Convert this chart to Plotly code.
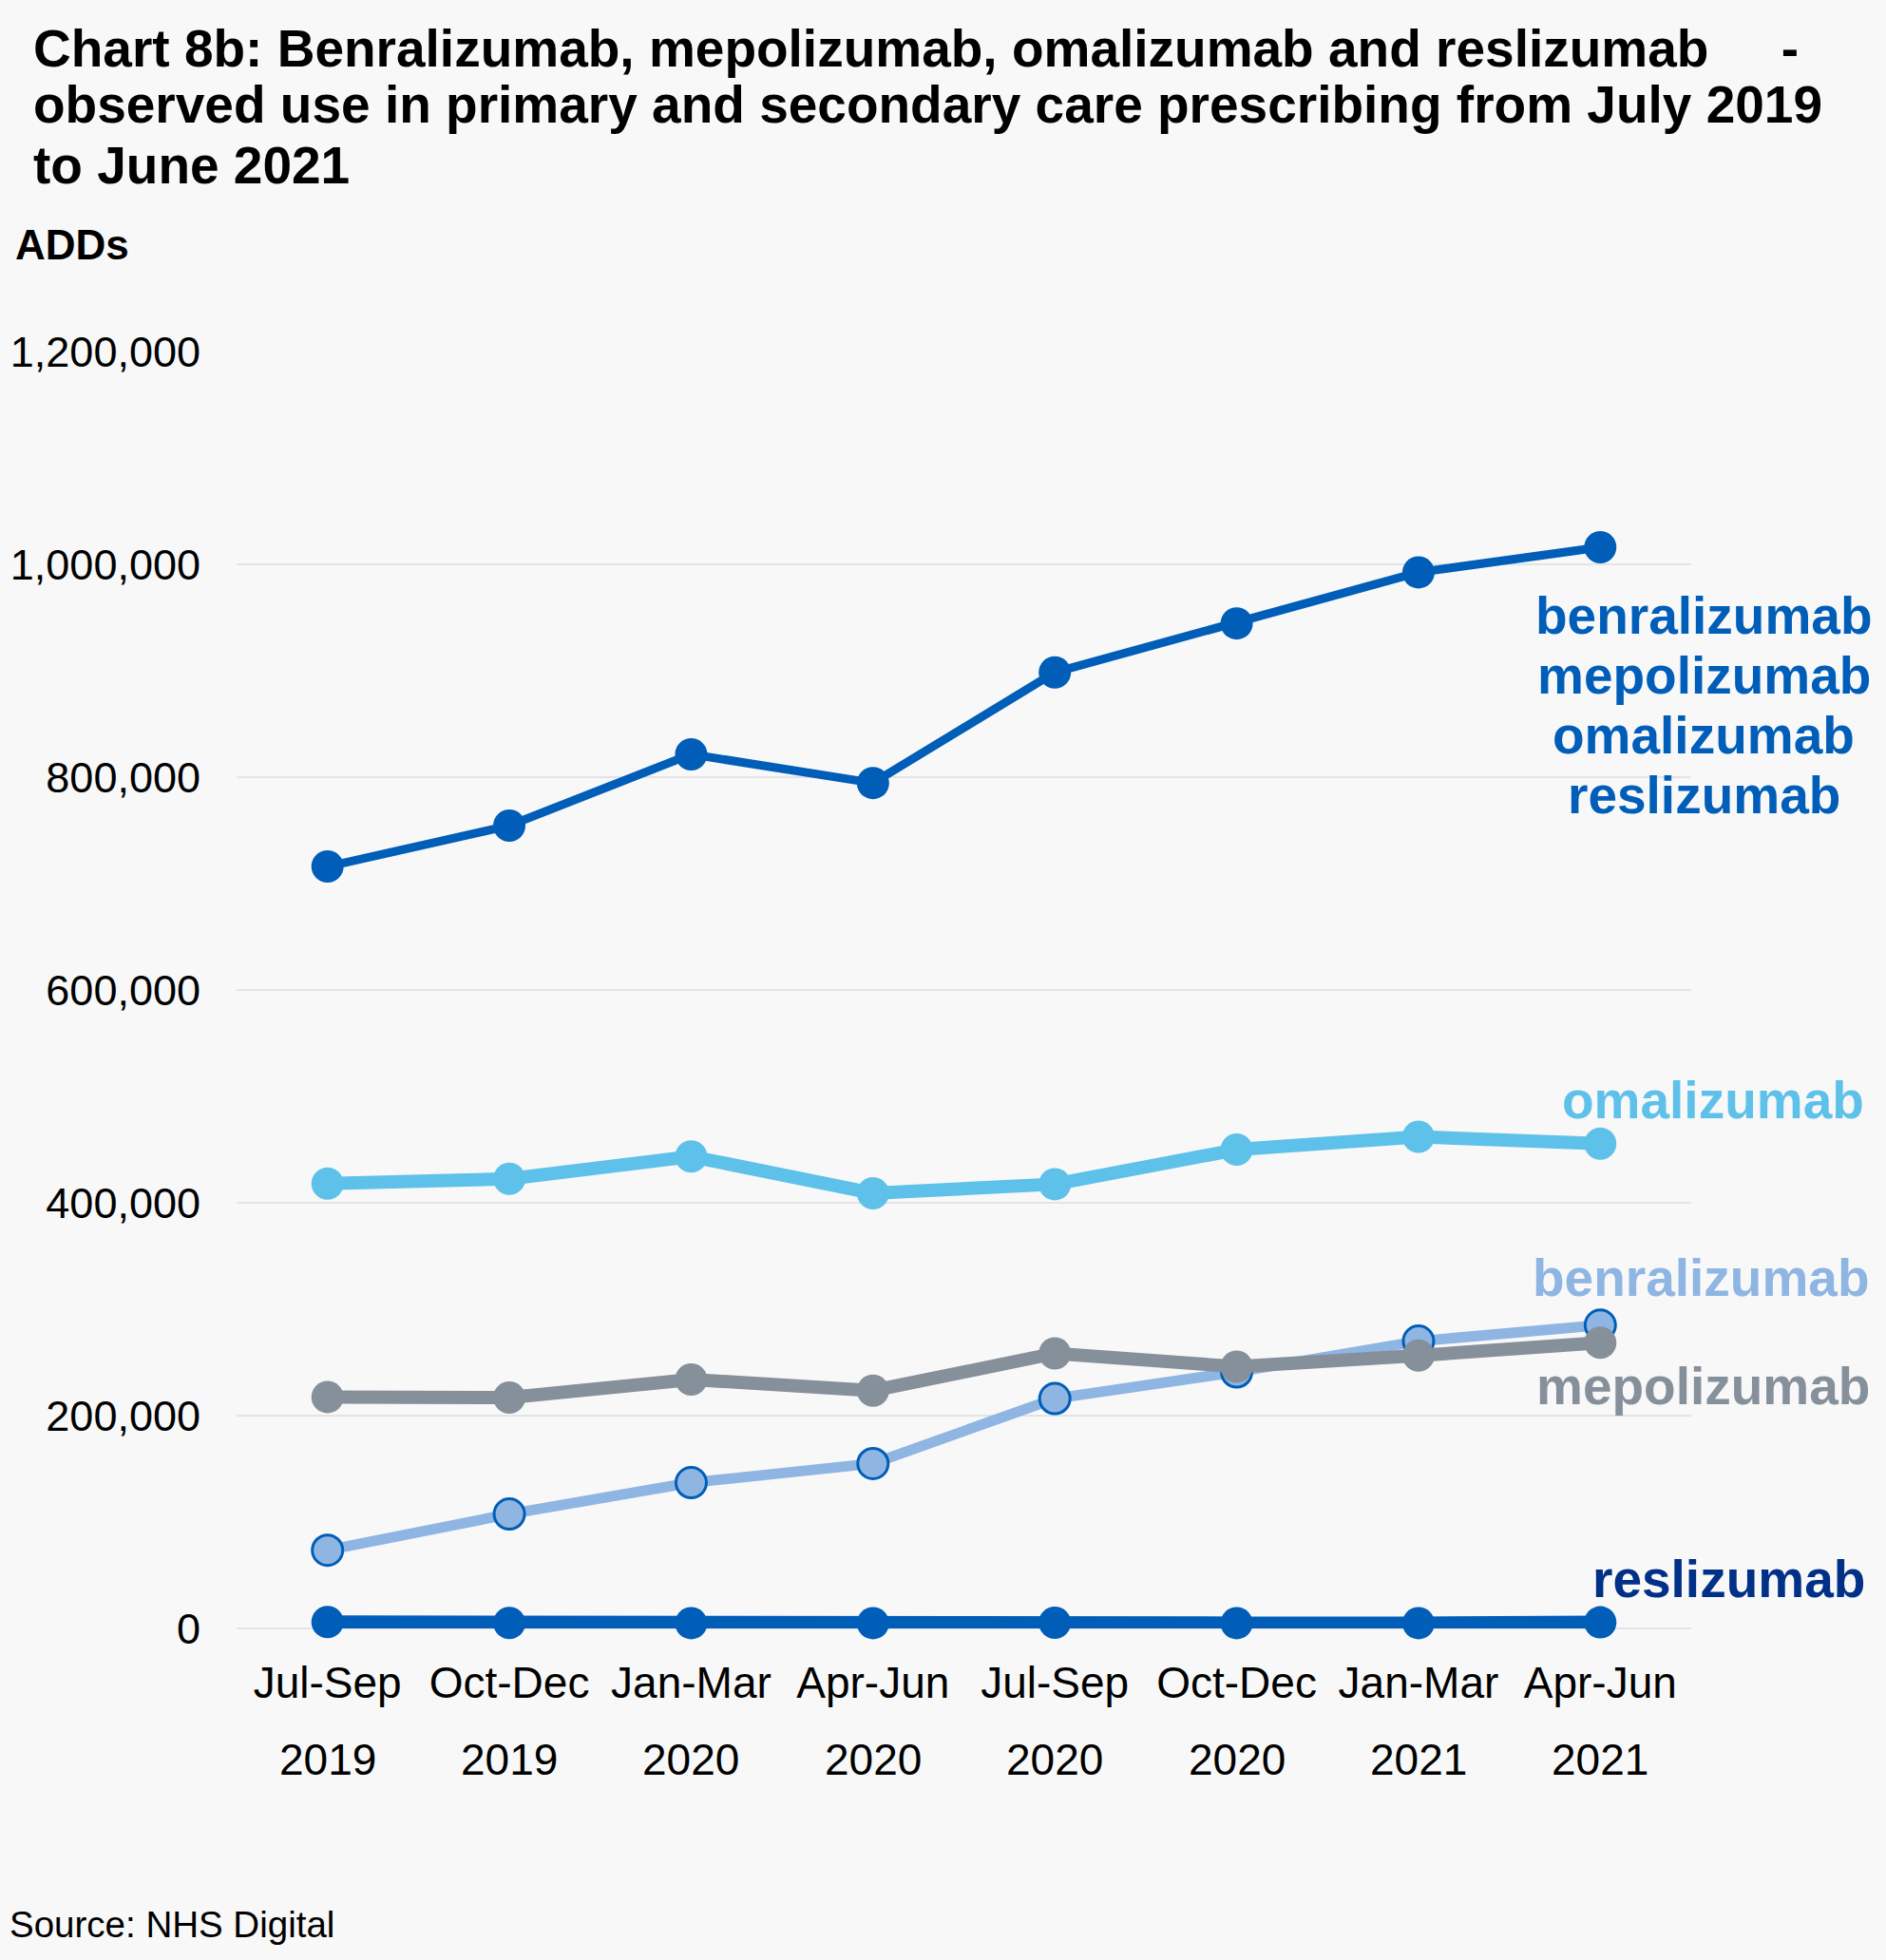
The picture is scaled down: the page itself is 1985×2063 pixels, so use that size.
import plotly.graph_objects as go

# ---- data ----
quarters = ["Jul-Sep", "Oct-Dec", "Jan-Mar", "Apr-Jun", "Jul-Sep", "Oct-Dec", "Jan-Mar", "Apr-Jun"]
years = ["2019", "2019", "2020", "2020", "2020", "2020", "2021", "2021"]
categories = [f"{q} {y}" for q, y in zip(quarters, years)]

total_all = [716000, 754500, 821500, 794500, 898500, 944500, 992500, 1016000]
omalizumab = [418000, 422500, 443500, 409000, 417500, 450000, 462000, 455500]
benralizumab = [73500, 107500, 137000, 155000, 216000, 241000, 270000, 285000]
mepolizumab = [217500, 217000, 234000, 223500, 258500, 246000, 256500, 268500]
reslizumab = [6000, 5200, 5000, 5000, 5300, 5000, 5000, 5700]

y_ticks = [0, 200000, 400000, 600000, 800000, 1000000, 1200000]

title_lines = [
    "Chart 8b: Benralizumab, mepolizumab, omalizumab and reslizumab&nbsp;&nbsp;&nbsp;&nbsp;&nbsp;-",
    "observed use in primary and secondary care prescribing from July 2019",
    "to June 2021",
]

# ---- geometry ----
WIDTH, HEIGHT = 1985, 2063
L, R, T, B = 249, 205, 370, 349
PW = WIDTH - L - R
PH = HEIGHT - T - B


def px_x(px):
    return (px - L) / PW


def px_y(py):
    return (HEIGHT - B - py) / PH


FONT = "Liberation Sans, Arial, sans-serif"
DARK_BLUE = "#005EB8"
LIGHT_BLUE = "#5EC1EA"
BENRA = "#8FB5E3"
GREY = "#86909B"
NAVY = "#003087"
BG = "#f8f8f8"

fig = go.Figure()

fig.add_trace(go.Scatter(
    x=categories, y=omalizumab, mode="lines+markers", name="omalizumab",
    line=dict(color=LIGHT_BLUE, width=14),
    marker=dict(color=LIGHT_BLUE, size=34), cliponaxis=False))
fig.add_trace(go.Scatter(
    x=categories, y=benralizumab, mode="lines+markers", name="benralizumab",
    line=dict(color=BENRA, width=11),
    marker=dict(color=BENRA, size=32, line=dict(color=DARK_BLUE, width=3)), cliponaxis=False))
fig.add_trace(go.Scatter(
    x=categories, y=mepolizumab, mode="lines+markers", name="mepolizumab",
    line=dict(color=GREY, width=14),
    marker=dict(color=GREY, size=34), cliponaxis=False))
fig.add_trace(go.Scatter(
    x=categories, y=reslizumab, mode="lines+markers", name="reslizumab",
    line=dict(color=DARK_BLUE, width=14),
    marker=dict(color=DARK_BLUE, size=34), cliponaxis=False))
fig.add_trace(go.Scatter(
    x=categories, y=total_all, mode="lines+markers",
    name="benralizumab, mepolizumab, omalizumab, reslizumab",
    line=dict(color=DARK_BLUE, width=9),
    marker=dict(color=DARK_BLUE, size=34), cliponaxis=False))

annotations = []

# title, one annotation per line
for t, cy in zip(title_lines, [51, 110, 174]):
    annotations.append(dict(
        x=px_x(33), xref="paper", y=px_y(cy), yref="paper",
        text=f"<b>{t}</b>", showarrow=False, xanchor="left", yanchor="middle",
        font=dict(family=FONT, size=55, color="#000")))

# year row under the quarter labels
for c, yr in zip(categories, years):
    annotations.append(dict(
        x=c, xref="x", y=px_y(1852), yref="paper", text=yr, showarrow=False,
        xanchor="center", yanchor="middle", font=dict(family=FONT, size=46, color="#000")))

# series labels
stack_lines = ["benralizumab", "mepolizumab", "omalizumab", "reslizumab"]
for i, t in enumerate(stack_lines):
    annotations.append(dict(
        x=px_x(1793), xref="paper", y=px_y(648 + 63 * i), yref="paper",
        text=f"<b>{t}</b>", showarrow=False, xanchor="center", yanchor="middle",
        font=dict(family=FONT, size=55, color=DARK_BLUE)))

single_labels = [
    ("omalizumab", LIGHT_BLUE, 1158, 1964),
    ("benralizumab", BENRA, 1345, 1970),
    ("mepolizumab", GREY, 1459, 1970),
    ("reslizumab", NAVY, 1662, 1965),
]
for t, col, cy, rx in single_labels:
    annotations.append(dict(
        x=px_x(rx), xref="paper", y=px_y(cy), yref="paper",
        text=f"<b>{t}</b>", showarrow=False, xanchor="right", yanchor="middle",
        font=dict(family=FONT, size=55, color=col)))

# axis title and source
annotations.append(dict(
    x=px_x(14), xref="paper", y=px_y(257), yref="paper", text="<b>ADDs</b>",
    showarrow=False, xanchor="left", yanchor="middle",
    font=dict(family=FONT, size=44, color="#000")))
annotations.append(dict(
    x=px_x(8), xref="paper", y=px_y(2025), yref="paper", text="Source: NHS Digital",
    showarrow=False, xanchor="left", yanchor="middle",
    font=dict(family=FONT, size=38.5, color="#000")))

fig.update_layout(
    width=WIDTH, height=HEIGHT,
    margin=dict(l=L, r=R, t=T, b=B, pad=0),
    paper_bgcolor=BG, plot_bgcolor=BG,
    showlegend=False,
    xaxis=dict(
        type="category", categoryorder="array", categoryarray=categories,
        range=[-0.5, len(categories) - 0.5],
        tickvals=categories, ticktext=quarters,
        showgrid=False, showline=False, zeroline=False, ticks="",
        ticklabelstandoff=26,
        tickfont=dict(family=FONT, size=46, color="#000")),
    yaxis=dict(
        range=[0, 1200000], tickvals=y_ticks, tickformat=",",
        showgrid=True, gridcolor="#e3e3e8", gridwidth=1.5,
        zeroline=True, zerolinecolor="#e3e3e8", zerolinewidth=1.5,
        showline=False, ticks="", ticklabelstandoff=37,
        tickfont=dict(family=FONT, size=45, color="#000")),
    annotations=annotations,
)

fig.write_html("out.html")
